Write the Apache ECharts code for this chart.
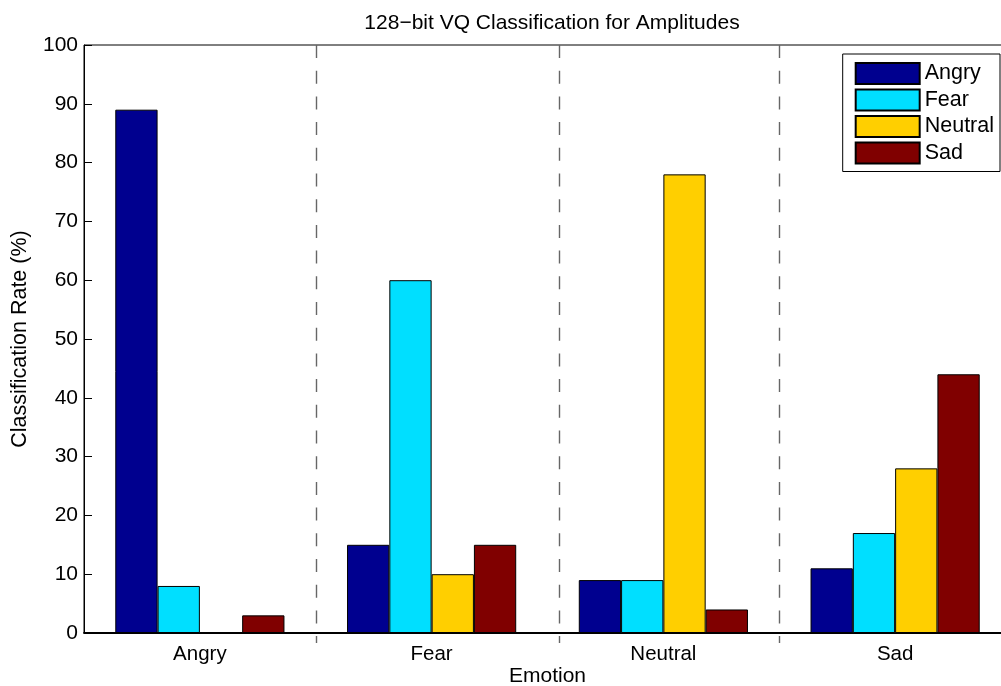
<!DOCTYPE html>
<html>
<head>
<meta charset="utf-8">
<script src="https://cdn.jsdelivr.net/npm/echarts@6/dist/echarts.min.js"></script>
<style>html,body{margin:0;padding:0;background:#fff}#c{width:1001px;height:686px}</style>
</head>
<body>
<div id="c"></div>
<script>
const categories = ['Angry', 'Fear', 'Neutral', 'Sad'];
const angry   = [89, 15, 9, 11];
const fear    = [8, 60, 9, 17];
const neutral = [0, 10, 78, 28];
const sad     = [3, 15, 4, 44];
const seriesNames = ['Angry', 'Fear', 'Neutral', 'Sad'];
const yTicks = [0, 10, 20, 30, 40, 50, 60, 70, 80, 90, 100];
const dividers = [1.5, 2.55, 3.5];

const colors = ['#00008F', '#00DFFF', '#FFCF00', '#800000'];
const font = 'Liberation Sans, Arial, Helvetica, sans-serif';
const values = [angry, fear, neutral, sad];

const chart = echarts.init(document.getElementById('c'), null, {renderer: 'canvas'});
const barSeries = seriesNames.map((n, i) => ({
  name: n, type: 'bar', data: values[i],
  barGap: '0%', barCategoryGap: '27%',
  itemStyle: {color: colors[i], borderColor: '#000', borderWidth: 1},
  emphasis: {disabled: true}
}));
barSeries.push({
  type: 'custom', xAxisIndex: 1, silent: true, clip: false, z: 1,
  data: dividers.map(d => [d]),
  encode: {x: 0},
  renderItem: (params, api) => {
    const x = api.value(0);
    const p1 = api.coord([x, 100]);
    const p2 = api.coord([x, -1.7]);
    return {
      type: 'line',
      shape: {x1: Math.round(p1[0]) + 0.5, y1: p1[1], x2: Math.round(p2[0]) + 0.5, y2: p2[1]},
      style: {stroke: '#666', lineWidth: 1.4, lineDash: [13, 12.7]}
    };
  }
});

chart.setOption({
  animation: false,
  backgroundColor: '#fff',
  textStyle: {fontFamily: font},
  title: {
    text: '128\u2212bit VQ Classification for Amplitudes',
    left: 547, textAlign: 'center', top: 8,
    textStyle: {fontFamily: font, fontSize: 21, fontWeight: 'normal', color: '#000'}
  },
  legend: {
    orient: 'vertical', right: 1, top: 54,
    data: seriesNames,
    icon: 'rect',
    itemWidth: 64, itemHeight: 21, itemGap: 3.5,
    padding: [8, 6, 7, 12],
    borderColor: '#000', borderWidth: 1, backgroundColor: '#fff',
    textStyle: {fontFamily: font, fontSize: 21.5, lineHeight: 21, color: '#000', padding: [0, 0, 0, 0]},
    selectedMode: false
  },
  grid: {
    left: 84, top: 45, width: 927, height: 588,
    outerBoundsMode: 'none', containLabel: false,
    show: true, borderColor: '#000', borderWidth: 1
  },
  xAxis: [{
    type: 'category', data: categories,
    name: 'Emotion', nameLocation: 'middle', nameGap: 33, nameMoveOverlap: false,
    nameTextStyle: {fontFamily: font, fontSize: 21, color: '#000'},
    axisLine: {lineStyle: {color: '#000', width: 1.8}},
    axisTick: {show: false},
    axisLabel: {fontFamily: font, fontSize: 20.5, color: '#000', margin: 11},
    splitLine: {show: false}
  }, {
    type: 'value', min: 0.5, max: 4.5, show: false, position: 'top'
  }],
  yAxis: {
    type: 'value', min: 0, max: 100, interval: 10,
    name: 'Classification Rate (%)', nameLocation: 'middle', nameGap: 53, nameMoveOverlap: false,
    nameTextStyle: {fontFamily: font, fontSize: 21.5, color: '#000'},
    axisLine: {show: true, lineStyle: {color: '#000', width: 1}},
    axisTick: {show: true, inside: true, length: 8, lineStyle: {color: '#000'}},
    axisLabel: {fontFamily: font, fontSize: 21, color: '#000', margin: 6,
      formatter: v => yTicks.includes(v) ? String(v) : ''},
    splitLine: {show: false}
  },
  series: barSeries
});
</script>
</body>
</html>
